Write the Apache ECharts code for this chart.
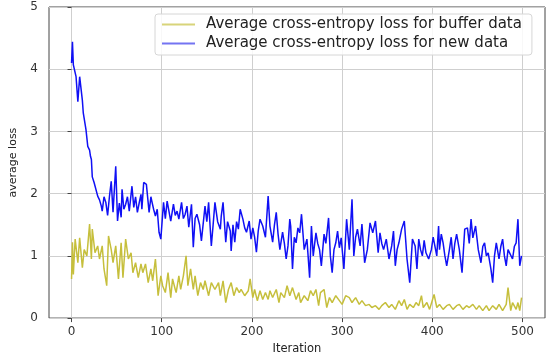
<!DOCTYPE html>
<html>
<head>
<meta charset="utf-8">
<script src="https://cdn.jsdelivr.net/npm/echarts@6/dist/echarts.min.js"></script>
<style>
  html, body { margin: 0; padding: 0; background: #fff; }
  #chart { width: 556px; height: 360px; }
</style>
</head>
<body>
<div id="chart"></div>
<script>
// iterations / losses
var bufferIter = [0,1,2,4,7,9,12,14,17,20,22,23,26,29,31,34,36,39,41,44,46,49,52,55,57,60,63,66,68,71,74,77,79,82,85,88,90,93,96,99,
    101,104,107,110,112,115,116,119,121,124,127,129,132,135,137,140,143,146,148,152,155,159,163,165,168,171,174,177,180,183,186,188,192,196,198,
    201,203,206,209,212,215,218,220,223,227,230,232,236,239,242,245,249,252,254,258,262,265,268,271,274,276,280,283,286,289,293,297,
    300,304,308,311,315,319,322,326,330,333,337,341,344,348,352,355,359,363,366,369,372,375,379,382,385,388,390,394,397,
    402,405,408,412,416,419,423,427,430,434,438,441,445,449,452,456,460,463,467,471,474,478,482,484,487,489,493,495,497,499];
var bufferLoss = [0.63,1.22,0.70,1.27,0.89,1.29,0.81,1.10,1.00,1.51,0.95,1.43,1.05,1.16,0.95,1.16,0.79,0.52,1.32,1.10,0.89,1.16,0.63,1.21,0.65,1.27,0.95,1.05,0.73,0.89,0.65,0.87,0.73,0.87,0.57,0.79,0.60,0.95,0.36,0.68,
    0.52,0.41,0.73,0.33,0.63,0.46,0.41,0.68,0.46,0.68,1.00,0.52,0.79,0.46,0.68,0.36,0.57,0.46,0.60,0.36,0.57,0.46,0.57,0.36,0.60,0.25,0.46,0.57,0.36,0.49,0.41,0.46,0.36,0.44,0.63,
    0.33,0.46,0.28,0.44,0.30,0.41,0.30,0.44,0.33,0.46,0.25,0.41,0.33,0.52,0.36,0.49,0.30,0.41,0.25,0.36,0.28,0.44,0.36,0.46,0.20,0.41,0.46,0.17,0.33,0.25,0.36,0.28,
    0.22,0.36,0.33,0.25,0.33,0.22,0.28,0.20,0.22,0.17,0.20,0.14,0.20,0.25,0.17,0.22,0.14,0.28,0.20,0.30,0.14,0.22,0.17,0.25,0.20,0.36,0.17,0.25,0.14,
    0.38,0.17,0.22,0.14,0.20,0.22,0.14,0.20,0.22,0.14,0.20,0.17,0.22,0.14,0.20,0.12,0.20,0.12,0.20,0.14,0.22,0.12,0.22,0.49,0.12,0.25,0.14,0.25,0.12,0.33];

var newIter = [0,1,2,4,5,7,9,10,12,13,16,18,20,21,22,23,25,27,29,31,33,34,36,38,40,42,44,46,49,51,53,55,56,58,60,62,64,67,69,71,73,75,77,78,80,83,86,88,89,91,93,95,97,99,
    102,104,106,110,113,115,117,119,122,124,126,128,130,133,135,137,139,142,144,148,150,152,155,157,159,162,165,166,168,171,173,176,177,179,181,183,185,187,190,192,194,197,199,
    201,203,205,207,209,212,215,218,220,223,225,227,229,231,234,236,238,240,242,243,245,247,249,251,253,255,258,261,264,266,268,271,273,275,277,280,282,285,287,289,291,293,295,297,299,
    302,305,308,311,313,315,317,320,322,325,328,331,334,337,340,342,344,346,349,352,355,357,359,361,363,366,369,372,375,378,381,383,385,387,389,391,393,396,399,
    401,403,405,407,408,410,412,414,416,419,421,423,425,427,430,433,436,439,441,443,445,448,451,454,456,458,460,462,465,467,469,471,474,476,478,480,482,484,486,489,491,493,495,497,499];
var newLoss = [4.10,4.44,4.07,4.10,3.88,3.48,3.88,3.90,3.50,3.30,3.03,2.76,2.70,2.60,2.55,2.27,2.18,2.15,1.96,1.90,1.80,1.72,1.95,1.86,1.65,1.95,2.20,1.70,2.44,1.56,1.85,1.62,2.07,1.75,1.83,1.95,1.72,2.12,1.78,1.95,1.70,1.85,1.99,1.75,2.18,2.15,1.70,1.95,1.88,1.75,1.64,1.75,1.38,1.27,
    1.86,1.60,1.88,1.56,1.83,1.65,1.72,1.59,1.86,1.60,1.67,1.80,1.46,1.83,1.14,1.60,1.67,1.50,1.24,1.80,1.55,1.86,1.16,1.50,1.86,1.55,1.43,1.64,1.86,1.22,1.55,1.40,1.08,1.50,1.22,1.55,1.43,1.75,1.59,1.45,1.38,1.56,1.27,
    1.45,1.30,1.06,1.40,1.59,1.48,1.30,1.96,1.48,1.22,1.50,1.70,1.35,1.10,1.38,1.20,0.95,1.16,1.59,1.48,0.79,1.30,1.21,1.45,1.37,1.67,1.10,1.27,0.65,1.48,1.00,1.37,1.20,1.10,0.84,1.35,1.20,1.61,1.00,0.73,1.10,1.21,1.40,1.13,1.29,
    0.79,1.59,1.10,1.91,1.00,1.30,1.43,1.16,1.51,0.89,1.10,1.53,1.37,1.56,1.05,1.37,1.20,1.10,1.27,0.95,1.16,1.40,0.84,1.10,1.21,1.43,1.56,0.95,0.57,1.27,1.16,0.79,1.27,1.10,1.00,1.25,1.05,0.95,1.10,
    1.30,1.27,1.00,1.48,1.10,1.35,1.21,1.00,0.84,1.10,1.30,0.95,1.20,1.35,1.10,0.73,1.43,1.45,1.20,1.59,1.29,1.48,1.10,0.89,1.15,1.21,1.00,1.05,0.79,0.57,1.00,1.21,0.95,1.15,1.27,1.00,0.84,1.10,1.10,0.95,1.15,1.21,1.59,0.84,1.00];

var xTicks = [0, 100, 200, 300, 400, 500];
var seriesNames = ['Average cross-entropy loss for buffer data', 'Average cross-entropy loss for new data'];

function pairs(xs, ys) {
    return xs.map(function (x, i) { return [x, ys[i]]; });
}

var chart = echarts.init(document.getElementById('chart'));
var font = 'DejaVu Sans';
var option = {
    animation: false,
    grid: {
        left: 45, right: 11, top: 7, bottom: 41,
        show: true, borderColor: '#444', borderWidth: 1
    },
    legend: {
        orient: 'vertical',
        left: 155, top: 14,
        width: 383,
        padding: [3, 10, 4, 7],
        itemWidth: 33, itemHeight: 2, itemGap: 4,
        borderColor: '#d6d6d6', borderWidth: 1, borderRadius: 3,
        backgroundColor: 'rgba(255,255,255,0.85)',
        icon: 'rect',
        textStyle: { fontFamily: font, fontSize: 15, color: '#222', padding: [0, 0, 0, 6] },
        data: [
            { name: seriesNames[0], itemStyle: { color: '#d8d47a' } },
            { name: seriesNames[1], itemStyle: { color: '#7474f2' } }
        ]
    },
    xAxis: {
        type: 'value',
        min: -25, max: 525,
        name: 'Iteration', nameLocation: 'middle', nameGap: 24,
        nameTextStyle: { fontFamily: font, fontSize: 11.5, color: '#222' },
        axisLine: { show: false },
        axisTick: { show: true, length: 4, customValues: xTicks, lineStyle: { color: '#444' } },
        axisLabel: { customValues: xTicks, fontFamily: font, fontSize: 12, color: '#333', margin: 8 },
        splitLine: { show: true, lineStyle: { color: '#cfcfcf', width: 1 } }
    },
    yAxis: {
        type: 'value',
        min: 0, max: 5, interval: 1,
        name: 'average loss', nameLocation: 'middle', nameGap: 30,
        nameTextStyle: { fontFamily: font, fontSize: 11, color: '#222' },
        axisLine: { show: false },
        axisTick: { show: true, length: 4, lineStyle: { color: '#444' } },
        axisLabel: { fontFamily: font, fontSize: 12, color: '#333', margin: 11 },
        splitLine: { show: true, lineStyle: { color: '#cfcfcf', width: 1 } }
    },
    series: [{
        name: seriesNames[0],
        type: 'line',
        data: pairs(bufferIter, bufferLoss),
        showSymbol: false, symbol: 'none',
        lineStyle: { color: '#c6bf3c', width: 1.5 },
        itemStyle: { color: '#c6bf3c' }
    }, {
        name: seriesNames[1],
        type: 'line',
        data: pairs(newIter, newLoss),
        showSymbol: false, symbol: 'none',
        lineStyle: { color: '#1010f5', width: 1.5 },
        itemStyle: { color: '#1010f5' }
    }]
};
chart.setOption(option);
</script>
</body>
</html>
